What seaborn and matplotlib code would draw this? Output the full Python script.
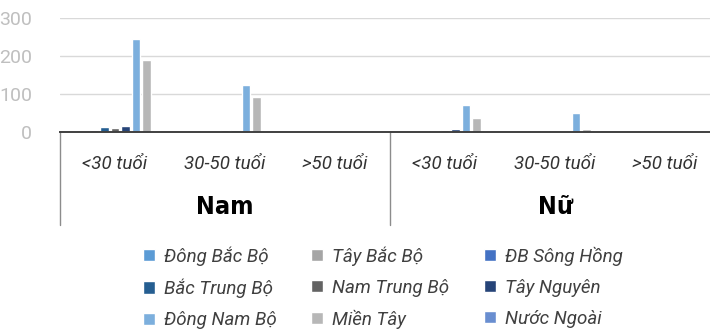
import matplotlib
matplotlib.use("Agg")
import matplotlib.pyplot as plt
import matplotlib.transforms as mtransforms
import seaborn as sns
import pandas as pd

# Categories: gender groups and age bands
genders = ["Nam", "Nữ"]
ages = ["<30 tuổi", "30-50 tuổi", ">50 tuổi"]

# Regions (series) and their colours
regions = ["Đông Bắc Bộ", "Tây Bắc Bộ", "ĐB Sông Hồng",
           "Bắc Trung Bộ", "Nam Trung Bộ", "Tây Nguyên",
           "Đông Nam Bộ", "Miền Tây", "Nước Ngoài"]
colors = ["#5B9BD5", "#A5A5A5", "#4472C4",
          "#255E91", "#636363", "#264478",
          "#7CAFDD", "#B7B7B7", "#698ED0"]

# Counts per region, ordered Nam(<30, 30-50, >50), Nữ(<30, 30-50, >50)
dong_bac_bo = [0, 2, 0, 0, 0, 0]
tay_bac_bo = [0, 0, 0, 0, 0, 0]
db_song_hong = [5, 0, 0, 2, 0, 0]
bac_trung_bo = [14, 3, 0, 0, 0, 0]
nam_trung_bo = [11, 5, 0, 6, 3, 0]
tay_nguyen = [15, 5, 0, 9, 3, 0]
dong_nam_bo = [245, 123, 0, 70, 50, 0]
mien_tay = [190, 92, 1, 37, 8, 0]
nuoc_ngoai = [0, 0, 0, 0, 0, 0]

series = [dong_bac_bo, tay_bac_bo, db_song_hong, bac_trung_bo, nam_trung_bo,
          tay_nguyen, dong_nam_bo, mien_tay, nuoc_ngoai]

cat_keys = [f"{g} {a}" for g in genders for a in ages]
rows = []
for reg, vals in zip(regions, series):
    for key, v in zip(cat_keys, vals):
        rows.append({"nhom": key, "vung": reg, "so_luong": v})
df = pd.DataFrame(rows)

sns.set_theme(style="white")
plt.rcParams["font.family"] = ["Roboto", "DejaVu Sans"]

W, H = 710, 329
fig = plt.figure(figsize=(W / 100, H / 100), dpi=100)
# axes spans 660 px horizontally (the right part runs past the canvas edge)
ax = fig.add_axes([60 / W, (H - 132) / H, 660 / W, 114 / H])

sns.barplot(data=df, x="nhom", y="so_luong", hue="vung", order=cat_keys,
            hue_order=regions, palette=colors, width=0.86, gap=0.22,
            saturation=1, errorbar=None, ax=ax)

ax.set_ylim(0, 300)
ax.set_xlim(-0.5, 5.5)
ax.set_yticks([0, 100, 200, 300])
ax.yaxis.grid(True, color="#D9D9D9", linewidth=1.0)
ax.set_axisbelow(True)
for s in ["left", "right", "top"]:
    ax.spines[s].set_visible(False)
ax.spines["bottom"].set_color("#404040")
ax.spines["bottom"].set_linewidth(1.4)
ax.tick_params(axis="y", length=0, pad=20, labelsize=14, labelcolor="#BFBFBF")
ax.tick_params(axis="x", length=0)
ax.set_xticks(range(len(cat_keys)))
ax.set_xticklabels([])
ax.set_xlabel("")
ax.set_ylabel("")

# multi-level category axis: age labels, gender labels, divider lines
trans = mtransforms.blended_transform_factory(ax.transData, ax.transAxes)
for i, key in enumerate(cat_keys):
    ax.text(i, -0.285, ages[i % 3], transform=trans, ha="center", va="center",
            fontsize=13.5, style="italic", color="#333333")
for j, g in enumerate(genders):
    ax.text(3 * j + 1, -0.66, g, transform=trans, ha="center", va="center",
            fontsize=18, fontweight="heavy", fontstretch="condensed",
            family=["DejaVu Sans"], color="#000000")
for xd in [-0.5, 2.5, 5.5]:
    ax.plot([xd, xd], [0, -0.815], transform=trans, color="#8C8C8C",
            linewidth=1.0, clip_on=False)

# legend laid out row by row in three columns
handles, labels = ax.get_legend_handles_labels()
ax.get_legend().remove()
order = [0, 3, 6, 1, 4, 7, 2, 5, 8]
leg = fig.legend([handles[k] for k in order], [labels[k] for k in order],
                 ncol=3, loc="upper left", bbox_to_anchor=(143 / W, 1 - 246 / H),
                 frameon=False, prop={"style": "italic", "size": 13.5},
                 handlelength=0.62, handleheight=0.62, handletextpad=0.5,
                 columnspacing=1.85, labelspacing=0.7, borderaxespad=0,
                 borderpad=0)
for t in leg.get_texts():
    t.set_color("#404040")

fig.savefig("out.png", dpi=100)
